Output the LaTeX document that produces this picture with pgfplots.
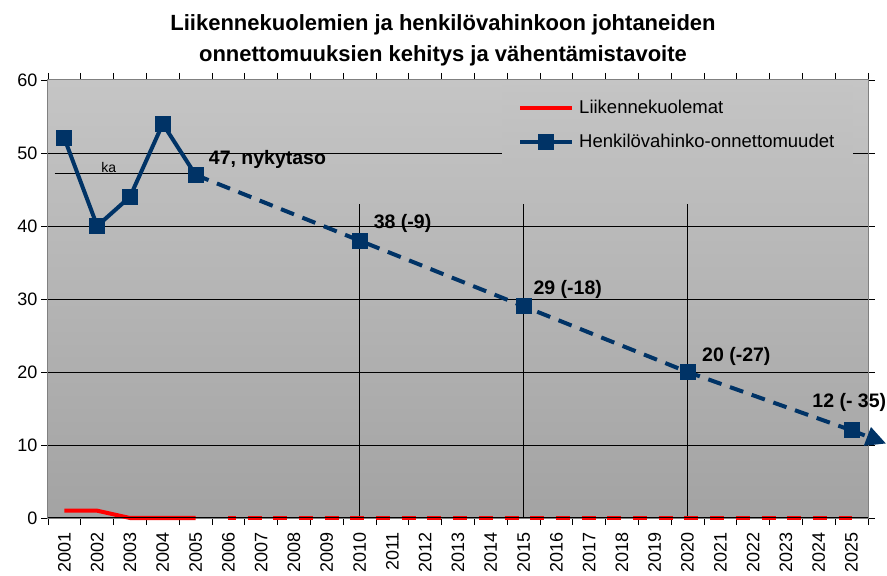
\documentclass[border=0pt]{standalone}
\usepackage{pgfplots}
\pgfplotsset{compat=1.18}
\usepackage{fontspec}
\setmainfont{Liberation Sans}
\usetikzlibrary{arrows.meta}
\definecolor{navy}{RGB}{0,51,102}
\definecolor{bgtop}{RGB}{197,197,197}
\definecolor{bgbot}{RGB}{163,163,163}
\definecolor{legtop}{RGB}{196,196,196}
\definecolor{legbot}{RGB}{190,190,190}
\definecolor{framegray}{RGB}{128,128,128}
\begin{document}
\begin{tikzpicture}
\begin{axis}[
  scale only axis, width=820pt, height=438pt,
  xmin=2000.5, xmax=2025.5, ymin=0, ymax=60,
  axis background/.style={top color=bgtop, bottom color=bgbot},
  axis line style={framegray, line width=1pt},
  xtick={2000.5,2001.5,...,2025.5},
  x tick label as interval,
  xticklabels={2001,2002,2003,2004,2005,2006,2007,2008,2009,2010,2011,2012,2013,2014,2015,2016,2017,2018,2019,2020,2021,2022,2023,2024,2025},
  xticklabel style={rotate=90, anchor=east, font=\fontsize{18}{18}\selectfont, inner sep=3pt, xshift=-4pt},
  ytick={0,10,...,60},
  yticklabel style={font=\fontsize{18}{18}\selectfont},
  tick align=outside, major tick length=7pt,
  tick style={black, line width=0.8pt},
  extra y ticks={10,20,30,40,50}, extra y tick labels={},
  extra y tick style={grid=major, major tick length=0pt},
  grid style={black, line width=0.8pt},
  /pgf/number format/assume math mode=true,
  /pgf/number format/1000 sep={},
  clip=false,
  legend cell align=left,
  legend image code/.code={\draw[mark repeat=2,mark phase=2,#1] plot coordinates {(0pt,0pt) (26pt,0pt) (52pt,0pt)};},
  legend style={draw=none, top color=legtop, bottom color=legbot, at={(rel axis cs:0.5537,0.9886)}, anchor=north west,
    font=\fontsize{18.5}{22}\selectfont, inner xsep=16pt, inner ysep=13pt,
    row sep=15pt, column sep=3pt},
]
\coordinate (SW) at (rel axis cs:0,0);
\coordinate (NE) at (rel axis cs:1,1);
% vertical target lines and average line
\addplot[black, line width=1.1pt, forget plot] coordinates {(2010,0) (2010,43)};
\addplot[black, line width=1.1pt, forget plot] coordinates {(2015,0) (2015,43)};
\addplot[black, line width=1.1pt, forget plot] coordinates {(2020,0) (2020,43)};
\addplot[black, line width=1.2pt, forget plot] coordinates {(2000.7,47.2) (2005,47.2)};
% series
\addplot[red, line width=4pt] coordinates {(2001,1) (2002,1) (2003,0) (2004,0) (2005,0)};
\addlegendentry{Liikennekuolemat}
\addplot[navy, line width=4pt, mark=square*, mark size=6pt, mark options={solid}] coordinates {(2001,52) (2002,40) (2003,44) (2004,54) (2005,47)};
\addlegendentry{Henkilövahinko-onnettomuudet}
\addplot[red, line width=4pt, dash pattern=on 14pt off 11.7pt, dash phase=6.6pt, forget plot] coordinates {(2006,0) (2010,0) (2015,0) (2020,0) (2025,0)};
\addplot[navy, line width=4pt, dash pattern=on 14pt off 9pt, forget plot, -{Triangle[length=20pt,width=19pt]}] coordinates {(2025,12) (2026.05,10.2)};
\addplot[navy, line width=4pt, dash pattern=on 14pt off 9pt, mark=square*, mark size=6pt, mark options={solid}, forget plot] coordinates {(2005,47) (2010,38) (2015,29) (2020,20) (2025,12)};
% labels
\node[anchor=south, inner sep=1pt, font=\fontsize{14}{14}\selectfont] at (axis cs:2002.35,47.2) {ka};
\node[anchor=base west, inner sep=0pt, font=\bfseries\fontsize{19.5}{20}\selectfont] at (axis cs:2005.40,48.36) {47, nykytaso};
\node[anchor=base west, inner sep=0pt, font=\bfseries\fontsize{19.5}{20}\selectfont] at (axis cs:2010.43,39.6) {38 (-9)};
\node[anchor=base west, inner sep=0pt, font=\bfseries\fontsize{19.5}{20}\selectfont] at (axis cs:2015.30,30.55) {29 (-18)};
\node[anchor=base west, inner sep=0pt, font=\bfseries\fontsize{19.5}{20}\selectfont] at (axis cs:2020.44,21.37) {20 (-27)};
\node[anchor=base west, inner sep=0pt, font=\bfseries\fontsize{19.5}{20}\selectfont] at (axis cs:2023.80,15.2) {12 (- 35)};
% title
\node[anchor=base, font=\bfseries\fontsize{22}{22}\selectfont] at ([yshift=49pt]rel axis cs:0.4817,1) {Liikennekuolemien ja henkilövahinkoon johtaneiden};
\node[anchor=base, font=\bfseries\fontsize{22}{22}\selectfont] at ([yshift=18pt]rel axis cs:0.4817,1) {onnettomuuksien kehitys ja vähentämistavoite};
\end{axis}
\draw[black, line width=1pt] (SW) -- (SW -| NE);
\pgfresetboundingbox
\path[use as bounding box] ([xshift=-48pt,yshift=-58pt]SW) rectangle ([xshift=19pt,yshift=80pt]NE);
\end{tikzpicture}
\end{document}
